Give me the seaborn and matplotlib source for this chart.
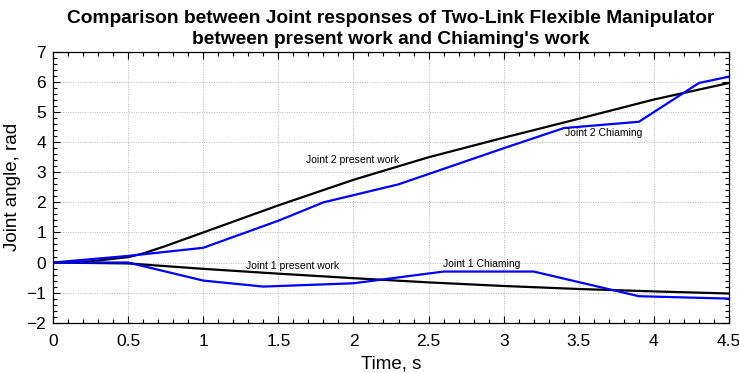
import matplotlib
matplotlib.use("Agg")
import matplotlib.pyplot as plt
import seaborn as sns
import pandas as pd
from matplotlib.ticker import MultipleLocator

# Data
t_j2_present = [0, 0.25, 0.5, 0.6, 0.75, 1.0, 1.5, 2.0, 2.5, 3.0, 3.5, 4.0, 4.5]
j2_present = [0, 0.04, 0.18, 0.3, 0.55, 1.0, 1.9, 2.75, 3.5, 4.15, 4.78, 5.42, 5.97]

t_j2_chiaming = [0, 0.5, 1.0, 1.5, 1.8, 2.3, 3.0, 3.4, 3.9, 4.3, 4.5]
j2_chiaming = [0, 0.22, 0.49, 1.39, 2.0, 2.6, 3.8, 4.47, 4.68, 5.97, 6.18]

t_j1_present = [0, 0.5, 1.0, 1.5, 2.0, 2.5, 3.0, 3.5, 4.0, 4.5]
j1_present = [0, -0.03, -0.21, -0.37, -0.52, -0.66, -0.78, -0.88, -0.96, -1.03]

t_j1_chiaming = [0, 0.5, 1.0, 1.4, 2.0, 2.6, 3.2, 3.9, 4.5]
j1_chiaming = [0, 0.0, -0.6, -0.8, -0.69, -0.3, -0.3, -1.12, -1.2]

labels = ["Joint 2 present work", "Joint 2 Chiaming", "Joint 1 present work", "Joint 1 Chiaming"]
title = "Comparison between Joint responses of Two-Link Flexible Manipulator\nbetween present work and Chiaming's work"
xtick_vals = [0, 0.5, 1, 1.5, 2, 2.5, 3, 3.5, 4, 4.5]
xtick_labels = ["0", "0.5", "1", "1.5", "2", "2.5", "3", "3.5", "4", "4.5"]

sns.set_theme(style="white")
plt.rcParams['font.family'] = ['Liberation Sans', 'DejaVu Sans']
plt.rcParams['text.color'] = 'black'
plt.rcParams['axes.labelcolor'] = 'black'
plt.rcParams['xtick.color'] = 'black'
plt.rcParams['ytick.color'] = 'black'

fig = plt.figure(figsize=(7.39, 3.73), dpi=100)
ax = fig.add_axes([0.0717, 0.1349, 0.9148, 0.7257])

series = [
    (t_j2_present, j2_present, "black"),
    (t_j2_chiaming, j2_chiaming, "#0000ff"),
    (t_j1_present, j1_present, "black"),
    (t_j1_chiaming, j1_chiaming, "#0000ff"),
]
for (tx, yv, c) in series:
    df = pd.DataFrame({"t": tx, "y": yv})
    sns.lineplot(data=df, x="t", y="y", color=c, lw=1.6, ax=ax, sort=False, estimator=None)

ax.set_xlim(0, 4.5)
ax.set_ylim(-2, 7)
ax.xaxis.set_minor_locator(MultipleLocator(0.1))
ax.yaxis.set_major_locator(MultipleLocator(1))
ax.yaxis.set_minor_locator(MultipleLocator(0.2))
ax.set_xticks(xtick_vals)
ax.set_xticklabels(xtick_labels)
ax.tick_params(which="both", direction="in", top=True, right=True, bottom=True, left=True,
               labelsize=12.5, color="black", width=0.8)
ax.tick_params(which="major", length=5)
ax.tick_params(axis="x", which="major", pad=8)
ax.tick_params(axis="y", which="major", pad=5)
ax.tick_params(which="minor", length=3)
ax.grid(True, which="major", linestyle=(0, (1, 1.5)), color="#b5b5b5", lw=0.7)
for s in ax.spines.values():
    s.set_visible(True)
    s.set_color("black")
    s.set_linewidth(0.9)

ax.set_xlabel("Time, s", fontsize=13.5, labelpad=5)
ax.set_ylabel("Joint angle, rad", fontsize=13.5, labelpad=4)
ax.set_title(title, fontsize=13.8, fontweight="bold", pad=6, linespacing=1.25)

ax.text(1.683, 3.41, labels[0], fontsize=7.5, va="center", ha="left")
ax.text(3.407, 4.32, labels[1], fontsize=7.5, va="center", ha="left")
ax.text(1.284, -0.11, labels[2], fontsize=7.5, va="center", ha="left")
ax.text(2.593, -0.06, labels[3], fontsize=7.5, va="center", ha="left")

fig.savefig("out.png", dpi=100)
